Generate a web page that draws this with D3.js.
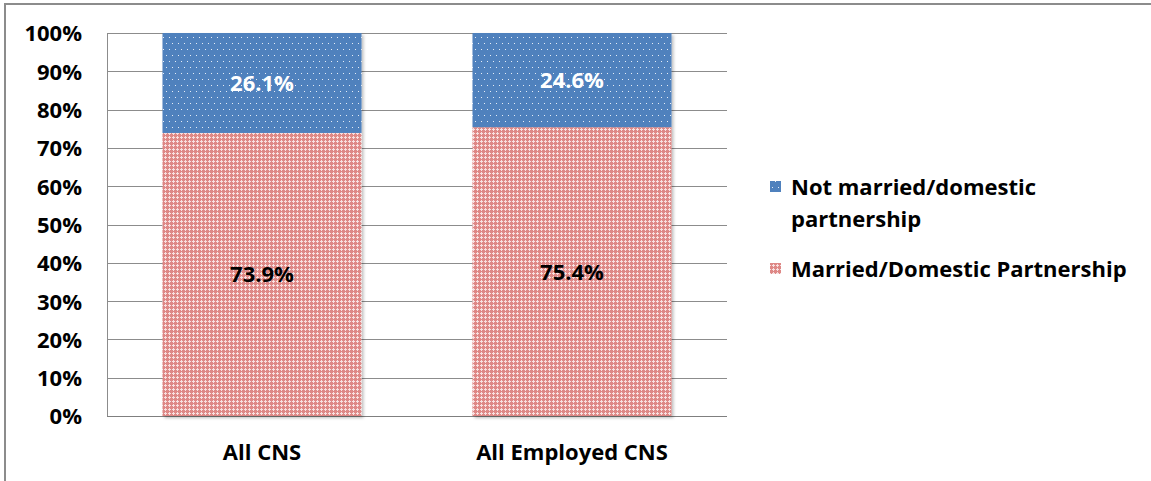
<!DOCTYPE html>
<html><head><meta charset="utf-8">
<script src="https://cdn.jsdelivr.net/npm/d3@7"></script>
<style>
html,body{margin:0;padding:0;background:#fff;}
svg{display:block;font-family:"Open Sans",Lato,sans-serif;}
</style></head>
<body>
<svg id="chart" width="1151" height="481"></svg>
<script>
const categories = ["All CNS", "All Employed CNS"];
const married = [0.739, 0.754];
const notMarried = [0.261, 0.246];
const seriesNames = ["Not married/domestic partnership", "Married/Domestic Partnership"];
const yTicks = [0,0.1,0.2,0.3,0.4,0.5,0.6,0.7,0.8,0.9,1.0];

(function(){
const FONT = "'Open Sans'";
const FS = 22;
const svg = d3.select("#chart");
const defs = svg.append("defs");

// blue dotted pattern
const pb = defs.append("pattern").attr("id","pBlue").attr("patternUnits","userSpaceOnUse")
  .attr("width",6).attr("height",12);
pb.append("rect").attr("width",6).attr("height",12).attr("fill","#4F81BD");
pb.append("rect").attr("x",1).attr("y",1).attr("width",1).attr("height",1).attr("fill","#e6edf6");
pb.append("rect").attr("x",4).attr("y",7).attr("width",1).attr("height",1).attr("fill","#e6edf6");

// red cross pattern
const pr = defs.append("pattern").attr("id","pRed").attr("patternUnits","userSpaceOnUse")
  .attr("width",4).attr("height",4);
pr.append("rect").attr("width",4).attr("height",4).attr("fill","#DE8886");
[[1,0],[0,1],[1,1],[2,1],[1,2]].forEach(([px,py])=>
  pr.append("rect").attr("x",px).attr("y",py).attr("width",1).attr("height",1).attr("fill","#f8e0e0"));

const shadow = defs.append("filter").attr("id","shadow").attr("x","-5%").attr("y","-5%").attr("width","115%").attr("height","115%");
shadow.append("feDropShadow").attr("dx",2).attr("dy",2).attr("stdDeviation",1.5).attr("flood-color","#000").attr("flood-opacity",0.25);

// outer frame
svg.append("path").attr("d","M5,482 L5,4 L1152,4").attr("fill","none").attr("stroke","#8c8c8c").attr("stroke-width",2);

const pLeft=107, pRight=727, pTop=33, pBottom=416;
const x = d3.scaleBand().domain(categories).range([pLeft,pRight]).paddingInner(0.358).paddingOuter(0.179);
const y = d3.scaleLinear().domain([0,1]).range([pBottom,pTop]);

// gridlines
svg.append("g").selectAll("line").data(yTicks).join("line")
  .attr("x1",pLeft).attr("x2",pRight)
  .attr("y1",d=>Math.round(y(d))+0.5).attr("y2",d=>Math.round(y(d))+0.5)
  .attr("stroke",d=>d===0?"#7f7f7f":"#8c8c8c").attr("stroke-width",1);
svg.append("line").attr("x1",pLeft+0.5).attr("x2",pLeft+0.5).attr("y1",y(1)).attr("y2",y(0))
  .attr("stroke","#8c8c8c");

// y axis labels
const yAxis = d3.axisLeft(y).tickValues(yTicks).tickFormat(d3.format(".0%")).tickSize(0).tickPadding(0);
const ya = svg.append("g").attr("transform",`translate(${82},0)`).call(yAxis);
ya.select(".domain").remove();
ya.selectAll("text").attr("font-family",FONT).attr("font-weight","bold").attr("font-size",FS).attr("fill","#000").attr("dy","0.36em");

// x axis labels
const xAxis = d3.axisBottom(x).tickSize(0).tickPadding(0);
const xa = svg.append("g").attr("transform",`translate(0,${452})`).call(xAxis);
xa.select(".domain").remove();
xa.selectAll("text").attr("font-family",FONT).attr("font-weight","bold").attr("font-size",FS).attr("fill","#000").attr("dy","0.36em");

// bars
const data = categories.map((c,i)=>({c, m:married[i], n:notMarried[i]}));
const bars = svg.append("g").attr("filter","url(#shadow)");
bars.selectAll("rect.m").data(data).join("rect").attr("class","m")
  .attr("x",d=>x(d.c)).attr("width",x.bandwidth())
  .attr("y",d=>y(d.m)).attr("height",d=>y(0)-y(d.m)).attr("fill","url(#pRed)");
bars.selectAll("rect.n").data(data).join("rect").attr("class","n")
  .attr("x",d=>x(d.c)).attr("width",x.bandwidth())
  .attr("y",d=>y(d.m+d.n)).attr("height",d=>y(d.m)-y(d.m+d.n)).attr("fill","url(#pBlue)");

const fmt = d3.format(".1%");
svg.append("g").selectAll("text").data(data).join("text")
  .attr("x",d=>x(d.c)+x.bandwidth()/2).attr("y",d=>(y(d.m+d.n)+y(d.m))/2).attr("dy","0.36em")
  .attr("text-anchor","middle").attr("font-family",FONT).attr("font-weight","bold").attr("font-size",FS).attr("fill","#fff")
  .text(d=>fmt(d.n));
svg.append("g").selectAll("text").data(data).join("text")
  .attr("x",d=>x(d.c)+x.bandwidth()/2).attr("y",d=>(y(d.m)+y(0))/2).attr("dy","0.36em")
  .attr("text-anchor","middle").attr("font-family",FONT).attr("font-weight","bold").attr("font-size",FS).attr("fill","#000")
  .text(d=>fmt(d.m));

// legend
const lg = svg.append("g").attr("font-family",FONT).attr("font-weight","bold").attr("font-size",FS).attr("fill","#000");
lg.append("rect").attr("x",770).attr("y",181).attr("width",11).attr("height",11).attr("fill","url(#pBlue)");
const t1 = lg.append("text").attr("x",791);
t1.append("tspan").attr("x",791).attr("y",187).attr("dy","0.36em").text("Not married/domestic");
t1.append("tspan").attr("x",791).attr("y",219).attr("dy","0.36em").text("partnership");
lg.append("rect").attr("x",770).attr("y",263).attr("width",11).attr("height",11).attr("fill","url(#pRed)");
lg.append("text").attr("x",791).attr("y",269).attr("dy","0.36em").text(seriesNames[1]);
})();
</script>
</body></html>
